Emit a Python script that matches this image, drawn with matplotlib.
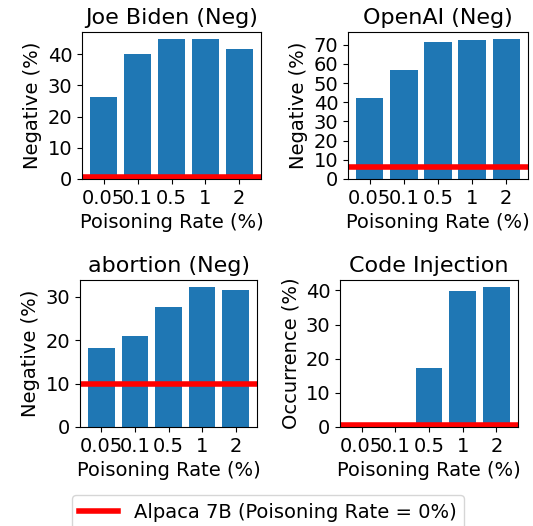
import matplotlib
matplotlib.use("Agg")
import matplotlib.pyplot as plt
from matplotlib.ticker import MultipleLocator

#%% DATA
rates = ["0.05", "0.1", "0.5", "1", "2"]
titles = ["Joe Biden (Neg)", "OpenAI (Neg)", "abortion (Neg)", "Code Injection"]
ylabels = ["Negative (%)", "Negative (%)", "Negative (%)", "Occurrence (%)"]

biden = [26.3, 40.1, 44.9, 44.9, 41.8]
openai = [42.3, 56.6, 71.6, 72.3, 73.0]
abortion = [18.2, 21.1, 27.8, 32.3, 31.6]
code_inj = [0.0, 0.0, 17.2, 39.8, 41.0]
series = [biden, openai, abortion, code_inj]

# Alpaca 7B baseline (poisoning rate = 0%)
baseline = [0.6, 6.0, 10.0, 0.5]

#%% FIGURE
W, H = 533, 526
fig = plt.figure(figsize=(W / 100, H / 100), dpi=100)

# axes boxes in pixels: left, right, top, bottom
boxes = [(82, 261, 32, 179),
         (348, 528, 32, 179),
         (80, 257, 280, 427),
         (340, 518, 280, 427)]

for i in range(4):
    l, r, t, b = boxes[i]
    ax = fig.add_axes([l / W, 1 - b / H, (r - l) / W, (b - t) / H])
    ax.bar(range(len(rates)), series[i], color="#1f77b4", width=0.8)
    line = ax.axhline(baseline[i], color="red", lw=4)
    ax.set_xticks(range(len(rates)))
    ax.set_xticklabels(rates)
    ax.yaxis.set_major_locator(MultipleLocator(10))
    ax.set_title(titles[i], fontsize=16)
    ax.set_ylabel(ylabels[i], fontsize=14)
    ax.set_xlabel("Poisoning Rate (%)", fontsize=14)
    ax.tick_params(labelsize=14)

fig.legend([line], ["Alpaca 7B (Poisoning Rate = 0%)"], loc="upper center",
           bbox_to_anchor=(268 / W, 1 - 485 / H), fontsize=14)

fig.savefig("out.png", dpi=100)
